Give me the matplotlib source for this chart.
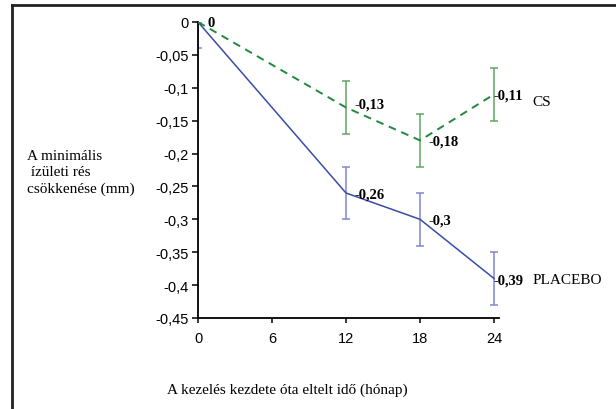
import numpy as np
import matplotlib
matplotlib.use('Agg')
import matplotlib.pyplot as plt
from matplotlib.lines import Line2D

# data
months = [0, 12, 18, 24]
cs = [0, -0.13, -0.18, -0.11]
placebo = [0, -0.26, -0.3, -0.39]
cs_err_lo = [0, 0.04, 0.04, 0.04]
cs_err_hi = [0, 0.04, 0.04, 0.04]
pl_err_lo = [0.04, 0.04, 0.04, 0.04]
pl_err_hi = [0, 0.04, 0.04, 0.04]
cs_labels = ['0', '-0,13', '-0,18', '-0,11']
pl_labels = ['', '-0,26', '-0,3', '-0,39']
xticks = [0, 6, 12, 18, 24]
yticks = [0, -0.05, -0.1, -0.15, -0.2, -0.25, -0.3, -0.35, -0.4, -0.45]
ytick_labels = ['0', '-0,05', '-0,1', '-0,15', '-0,2', '-0,25', '-0,3', '-0,35', '-0,4', '-0,45']

serif = 'Liberation Serif'
sans = 'Liberation Sans'

green = '#1f8a3c'
green_err = '#5fa563'
blue = '#3a4ca8'
blue_err = '#7f86d2'

fig = plt.figure(figsize=(6.16, 4.10), dpi=100)
ax = fig.add_axes([198/616, 1 - 319/410, 301/616, 296/410])

# error bars (drawn first, lines on top)
ax.errorbar(months[1:], cs[1:], yerr=[cs_err_lo[1:], cs_err_hi[1:]], fmt='none',
            ecolor=green_err, elinewidth=1.1, capsize=2.9, capthick=1.1)
ax.errorbar(months, placebo, yerr=[pl_err_lo, pl_err_hi], fmt='none',
            ecolor=blue_err, elinewidth=1.1, capsize=2.9, capthick=1.1)

ax.plot(months, placebo, color=blue, lw=1.1, zorder=3)
ax.plot(months, cs, color=green, lw=1.4, dashes=(4, 3), zorder=3)

# value labels
offs = {0: 9, 12: 8, 18: 8, 24: -1}
for m, v, t in zip(months, cs, cs_labels):
    ax.annotate(t, xy=(m, v), xytext=(offs[m], -1 if m != 12 else 3), textcoords='offset pixels',
                ha='left', va='center', fontfamily=serif, fontweight='bold', fontsize=10.5,
                annotation_clip=False)
for m, v, t in zip(months, placebo, pl_labels):
    if t:
        ax.annotate(t, xy=(m, v), xytext=(offs[m], -1), textcoords='offset pixels',
                    ha='left', va='center', fontfamily=serif, fontweight='bold', fontsize=10.5,
                    annotation_clip=False)

ax.annotate('CS', xy=(24, cs[-1]), xytext=(38, -7), textcoords='offset pixels',
            ha='left', va='center', fontfamily=serif, fontsize=11, annotation_clip=False)
ax.annotate('PLACEBO', xy=(24, placebo[-1]), xytext=(38, -1), textcoords='offset pixels',
            ha='left', va='center', fontfamily=serif, fontsize=11, annotation_clip=False)

ax.set_xlim(0, 24.4)
ax.set_ylim(-0.45, 0)
ax.set_xticks(xticks)
ax.set_xticklabels([str(x) for x in xticks], fontfamily=sans, fontsize=10.5)
ax.set_yticks(yticks)
ax.set_yticklabels(ytick_labels, fontfamily=sans, fontsize=10.5)
ax.tick_params(axis='y', direction='out', length=4.5, width=1.1, pad=2)
ax.tick_params(axis='x', direction='out', length=3.5, width=1.1, pad=6)

for s in ['top', 'right']:
    ax.spines[s].set_visible(False)
for s in ['left', 'bottom']:
    ax.spines[s].set_linewidth(1.3)

fig.text(27/616, 1 - 173/410, 'A minimális\n ízületi rés\ncsökkenése (mm)', ha='left', va='center',
         fontfamily=serif, fontsize=11, linespacing=1.3)
fig.text(167/616, 1 - 390/410, 'A kezelés kezdete óta eltelt idő (hónap)', ha='left', va='center',
         fontfamily=serif, fontsize=11)

# partial frame around the figure
fig.add_artist(Line2D([12/616, 1], [1 - 5.5/410, 1 - 5.5/410], color='#222222', lw=2.0))
fig.add_artist(Line2D([12/616, 12/616], [0, 1 - 5.5/410], color='#222222', lw=2.0))

fig.savefig('out.png', dpi=100)
